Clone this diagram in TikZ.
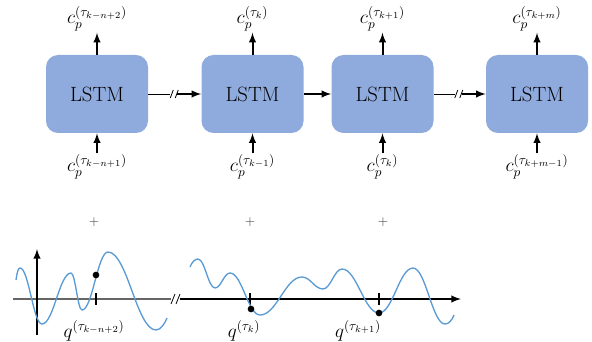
\documentclass[tikz,border=0pt]{standalone}
\usetikzlibrary{calc}
\definecolor{boxblue}{HTML}{8FAADC}
\definecolor{curveblue}{HTML}{5B9BD5}
\begin{document}
\begin{tikzpicture}
[
	x=0.75pt,
	y=-0.75pt,
	lstmbox/.style={rectangle,rounded corners=9pt,fill=boxblue,minimum width=76.5pt,minimum height=58.5pt,font=\fontsize{15.5}{18}\selectfont},
	sig/.style={-latex,line width=1.5pt},
	cut/.style={line width=0.6pt},
	lbl/.style={font=\Large,inner sep=1pt},
	plusnode/.style={font=\normalsize,black!75},
	closedpt/.style={circle,fill,inner sep=0pt,minimum size=5pt},
	wave/.style={curveblue,line width=1pt}
]
	\useasboundingbox (0,0) rectangle (592,342);

	% LSTM cells
	\node[lstmbox] (lstmA) at (97,94) {LSTM};
	\node[lstmbox] (lstmB) at (252.5,94) {LSTM};
	\node[lstmbox] (lstmC) at (382.5,94) {LSTM};
	\node[lstmbox] (lstmD) at (537,94) {LSTM};

	% outputs
	\draw[sig] (lstmA.north) -- ++(0,-22) coordinate (outA);
	\draw[sig] (lstmB.north) -- ++(0,-22) coordinate (outB);
	\draw[sig] (lstmC.north) -- ++(0,-22) coordinate (outC);
	\draw[sig] (lstmD.north) -- ++(0,-22) coordinate (outD);
	\node[lbl,anchor=south] (cA) at (outA) {$c_p^{(\tau_{k-n+2})}$};
	\node[lbl,anchor=south] (cB) at (outB) {$c_p^{(\tau_{k})}$};
	\node[lbl,anchor=south] (cC) at (outC) {$c_p^{(\tau_{k+1})}$};
	\node[lbl,anchor=south] (cD) at (outD) {$c_p^{(\tau_{k+m})}$};

	% inputs
	\coordinate (inA) at ($(lstmA.south)+(0,20)$);
	\coordinate (inB) at ($(lstmB.south)+(0,20)$);
	\coordinate (inC) at ($(lstmC.south)+(0,20)$);
	\coordinate (inD) at ($(lstmD.south)+(0,20)$);
	\draw[sig] (inA) -- (lstmA.south);
	\draw[sig] (inB) -- (lstmB.south);
	\draw[sig] (inC) -- (lstmC.south);
	\draw[sig] (inD) -- (lstmD.south);
	\node[lbl,anchor=north] (pA) at (inA) {$c_p^{(\tau_{k-n+1})}$};
	\node[lbl,anchor=north] (pB) at (inB) {$c_p^{(\tau_{k-1})}$};
	\node[lbl,anchor=north] (pC) at (inC) {$c_p^{(\tau_{k})}$};
	\node[lbl,anchor=north] (pD) at (inD) {$c_p^{(\tau_{k+m-1})}$};

	% links between cells
	\draw[cut] (lstmA.east) -- ($(lstmA.east)+(22,0)$) coordinate (brkA);
	\draw[cut]
	  ($(brkA)+(0,4)$) -- ++(3,-8)
	  ($(brkA)+(5,4)$) -- ++(3,-8)
	;
	\draw[sig] ($(brkA)+(7,0)$) -- (lstmB.west);
	\draw[sig] (lstmB.east) -- (lstmC.west);
	\draw[cut] (lstmC.east) -- ($(lstmC.east)+(21,0)$) coordinate (brkC);
	\draw[cut]
	  ($(brkC)+(0,4)$) -- ++(3,-8)
	  ($(brkC)+(5,4)$) -- ++(3,-8)
	;
	\draw[sig] ($(brkC)+(7,0)$) -- (lstmD.west);

	% plus signs
	\node[plusnode] (plusA) at (94,222) {$+$};
	\node[plusnode] (plusB) at (250,222) {$+$};
	\node[plusnode] (plusC) at (383,222) {$+$};

	% axes
	\coordinate (xstart) at (13,299);
	\coordinate (xbrk) at (171,299);
	\coordinate (xend) at (461,299);
	\coordinate (ybot) at (37,335);
	\coordinate (ytop) at (37,249);
	\draw[black!60,line width=1pt] (xstart) -- (xbrk);
	\draw[cut]
	  ($(xbrk)+(0,5)$) -- ++(4,-10)
	  ($(xbrk)+(5,5)$) -- ++(4,-10)
	;
	\draw[sig] ($(xbrk)+(9,0)$) -- (xend);
	\draw[sig] (ybot) -- (ytop);
	\foreach \t in {96,250,379}
	  \draw[line width=0.8pt] (\t,293) -- (\t,305);

	% signals
	\draw[wave] (16,280)
	  .. controls (17,273) and (18,268) .. (20,268)
	  .. controls (28.8,268) and (33.2,324) .. (42,324)
	  .. controls (53.6,324) and (59.4,273) .. (71,273)
	  .. controls (75.4,273) and (77.6,310) .. (82,310)
	  .. controls (92.4,310) and (97.6,252) .. (108,252)
	  .. controls (127.2,252) and (136.8,330) .. (156,330)
	  .. controls (161,330) and (165,323) .. (167,318);
	\draw[wave] (190,267)
	  .. controls (192,262) and (195,259) .. (198,259)
	  .. controls (204.8,259) and (208.2,288) .. (215,288)
	  .. controls (221,288) and (224,273) .. (230,273)
	  .. controls (242,273) and (248,315) .. (260,315)
	  .. controls (276.8,315) and (285.2,277) .. (302,277)
	  .. controls (310.4,277) and (314.6,289) .. (323,289)
	  .. controls (330.6,289) and (334.4,269) .. (342,269)
	  .. controls (356.8,269) and (364.2,313) .. (379,313)
	  .. controls (392.6,313) and (399.4,268) .. (413,268)
	  .. controls (425.8,268) and (432.2,324) .. (445,324)
	  .. controls (449,324) and (452,320) .. (454,315);

	\node[closedpt] (dotA) at (96,275) {};
	\node[closedpt] (dotB) at (251,309) {};
	\node[closedpt] (dotC) at (379,313) {};

	\node[lbl] (qA) at (94,331) {$q^{(\tau_{k-n+2})}$};
	\node[lbl] (qB) at (244,331) {$q^{(\tau_{k})}$};
	\node[lbl] (qC) at (358,331) {$q^{(\tau_{k+1})}$};

\end{tikzpicture}
\end{document}
